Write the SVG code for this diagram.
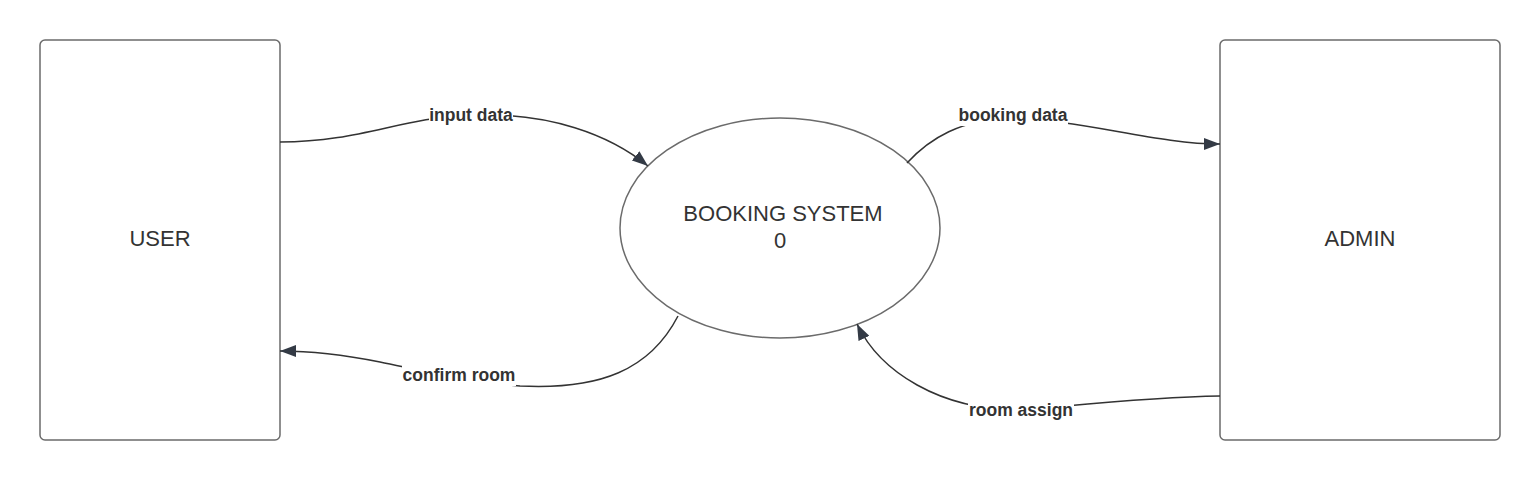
<svg xmlns="http://www.w3.org/2000/svg" width="1540" height="480" viewBox="0 0 1540 480">
<style>
.box{fill:#fff;stroke:#6b6b6b;stroke-width:1.5}
.node{font-family:"Liberation Sans",Arial,sans-serif;font-size:22px;fill:#333;text-anchor:middle}
.lbl{font-family:"Liberation Sans",Arial,sans-serif;font-size:17.5px;font-weight:bold;fill:#333;text-anchor:middle}
.edge{fill:none;stroke:#333;stroke-width:1.5}
.bg{fill:#fff}
</style>
<defs>
<marker id="arr" viewBox="0 0 16 12" refX="16" refY="6" markerWidth="16" markerHeight="12" markerUnits="userSpaceOnUse" orient="auto">
<path d="M0,0 L16,6 L0,12 Z" fill="#333a45"/>
</marker>
</defs>
<rect width="1540" height="480" fill="#fff"/>
<g id="user">
<rect class="box" x="40" y="40" width="240" height="400" rx="5"/>
<text class="node" x="160" y="246">USER</text>
</g>
<g id="admin">
<rect class="box" x="1220" y="40" width="280" height="400" rx="5"/>
<text class="node" x="1360" y="246">ADMIN</text>
</g>
<g id="booking-system">
<ellipse class="box" cx="780" cy="228" rx="160" ry="110"/>
<text class="node" x="783" y="221">BOOKING SYSTEM</text>
<text class="node" x="780" y="248">0</text>
</g>
<g id="connectors">
<path class="edge" marker-end="url(#arr)" d="M280,142 C360,142 400,118 470,115 C550,112 610,135 648,166"/>
<path class="edge" marker-end="url(#arr)" d="M907,163 C930,138 960,120 1013,117 C1090,122 1160,144 1220,144"/>
<path class="edge" marker-end="url(#arr)" d="M678,316 C650,370 600,390 520,386 C470,382 420,370 380,362 C340,354 310,351 280,351"/>
<path class="edge" marker-end="url(#arr)" d="M1220,396 C1150,397 1080,405 1020,410 C940,410 880,372 857,324"/>
<rect class="bg" x="429" y="104" width="84" height="22"/>
<text class="lbl" x="471" y="121">input data</text>
<rect class="bg" x="958" y="104" width="110" height="22"/>
<text class="lbl" x="1013" y="121">booking data</text>
<rect class="bg" x="402" y="364" width="114" height="22"/>
<text class="lbl" x="459" y="381">confirm room</text>
<rect class="bg" x="968" y="399" width="106" height="22"/>
<text class="lbl" x="1021" y="416">room assign</text>
</g>
</svg>
